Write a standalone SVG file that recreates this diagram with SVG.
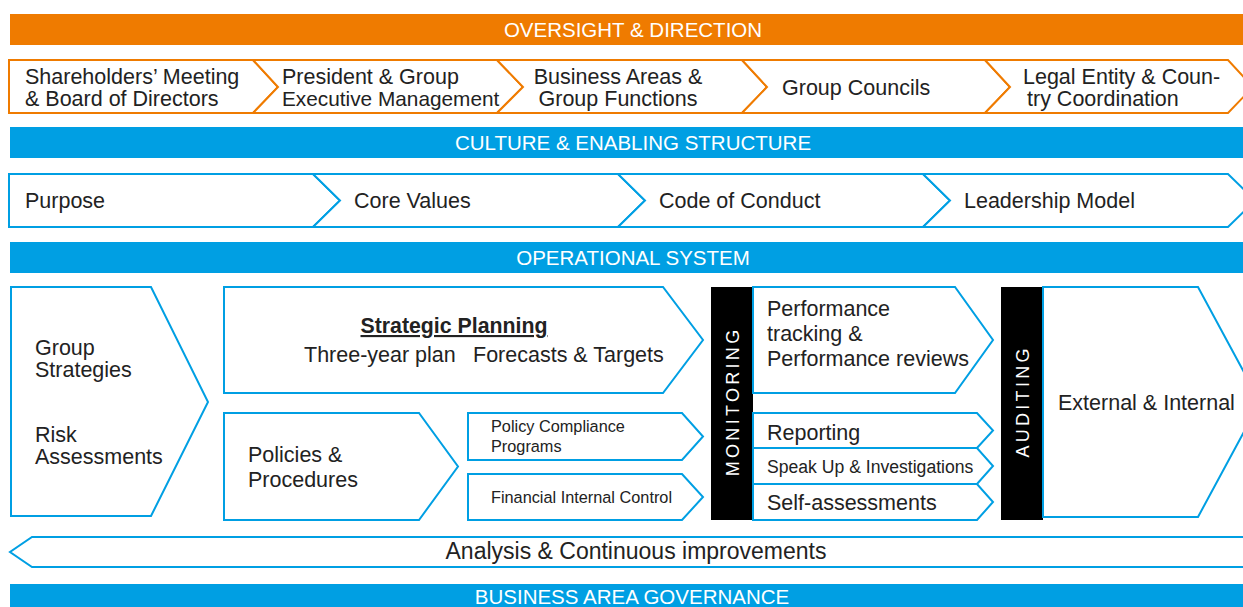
<svg xmlns="http://www.w3.org/2000/svg" width="1243" height="607" viewBox="0 0 1243 607">
<style>
.bar-o{fill:#EF7B00}
.bar-b{fill:#009FE3}
.bt{font-family:"Liberation Sans",Arial,sans-serif;font-size:20.5px;fill:#fff;text-anchor:middle}
.o{fill:#fff;stroke:#EF7B00;stroke-width:2}
.b{fill:#fff;stroke:#009FE3;stroke-width:2}
.t{font-family:"Liberation Sans",Arial,sans-serif;font-size:21.5px;fill:#222}
.s{font-family:"Liberation Sans",Arial,sans-serif;font-size:16.3px;fill:#222}
.vb{fill:#000}
.vt{font-family:"Liberation Sans",Arial,sans-serif;font-size:18px;fill:#fff;letter-spacing:3.3px}
</style>
<rect width="1243" height="607" fill="#fff"/>

<g id="bar-oversight"><rect class="bar-o" x="10" y="14" width="1233" height="31"/><text class="bt" x="633" y="37">OVERSIGHT &amp; DIRECTION</text></g>

<g id="n-shareholders"><polygon class="o" points="9,60 253,60 278,87 253,113 9,113"/><text class="t" x="25" y="84">Shareholders’ Meeting</text><text class="t" x="25" y="106">&amp; Board of Directors</text></g>
<g id="n-president"><polygon class="o" points="253,60 497,60 523,87 497,113 253,113 278,87"/><text class="t" x="282" y="84">President &amp; Group</text><text class="t" x="282" y="106" style="font-size:20.8px">Executive Management</text></g>
<g id="n-business"><polygon class="o" points="497,60 742,60 767,87 742,113 497,113 523,87"/><text class="t" x="618" y="84" text-anchor="middle">Business Areas &amp;</text><text class="t" x="618" y="106" text-anchor="middle">Group Functions</text></g>
<g id="n-councils"><polygon class="o" points="742,60 985,60 1010,87 985,113 742,113 767,87"/><text class="t" x="782" y="95">Group Councils</text></g>
<g id="n-legal"><polygon class="o" points="985,60 1228,60 1253,87 1228,113 985,113 1010,87"/><text class="t" x="1023" y="84">Legal Entity &amp; Coun-</text><text class="t" x="1027" y="106">try Coordination</text></g>

<g id="bar-culture"><rect class="bar-b" x="10" y="127" width="1233" height="31"/><text class="bt" x="633" y="150">CULTURE &amp; ENABLING STRUCTURE</text></g>

<g id="n-purpose"><polygon class="b" points="9,174 313,174 340,200.5 313,227 9,227"/><text class="t" x="25" y="208">Purpose</text></g>
<g id="n-values"><polygon class="b" points="313,174 618,174 645,200.5 618,227 313,227 340,200.5"/><text class="t" x="354" y="208">Core Values</text></g>
<g id="n-conduct"><polygon class="b" points="618,174 923,174 950,200.5 923,227 618,227 645,200.5"/><text class="t" x="659" y="208">Code of Conduct</text></g>
<g id="n-leadership"><polygon class="b" points="923,174 1228,174 1255,200.5 1228,227 923,227 950,200.5"/><text class="t" x="964" y="208">Leadership Model</text></g>

<g id="bar-operational"><rect class="bar-b" x="10" y="242" width="1233" height="31"/><text class="bt" x="633" y="265">OPERATIONAL SYSTEM</text></g>

<g id="n-strategies"><polygon class="b" points="11,287 151,287 208,402 151,516 11,516"/><text class="t" x="35" y="355">Group</text><text class="t" x="35" y="377">Strategies</text><text class="t" x="35" y="442">Risk</text><text class="t" x="35" y="464">Assessments</text></g>

<g id="n-planning"><polygon class="b" points="224,287 663,287 703,340 663,393 224,393"/><text class="t" x="454" y="333" text-anchor="middle" style="font-size:21.3px;font-weight:bold;text-decoration:underline">Strategic Planning</text><text class="t" x="304" y="362">Three-year plan</text><text class="t" x="473" y="362">Forecasts &amp; Targets</text></g>

<g id="n-policies"><polygon class="b" points="224,413 419,413 458,466.5 419,520 224,520"/><text class="t" x="248" y="462">Policies &amp;</text><text class="t" x="248" y="487">Procedures</text></g>

<g id="n-compliance"><polygon class="b" points="468,413 682,413 703,436.5 682,460 468,460"/><text class="s" x="491" y="432">Policy Compliance</text><text class="s" x="491" y="452">Programs</text></g>
<g id="n-financial"><polygon class="b" points="468,474 682,474 703,497 682,520 468,520"/><text class="s" x="491" y="503">Financial Internal Control</text></g>

<g id="n-monitoring"><rect class="vb" x="711" y="287" width="42" height="233"/><text class="vt" transform="translate(738.5,403) rotate(-90)" text-anchor="middle" dx="1.6">MONITORING</text></g>

<g id="n-performance"><polygon class="b" points="753,287 955,287 993,340 955,393 753,393"/><text class="t" x="767" y="316">Performance</text><text class="t" x="767" y="341">tracking &amp;</text><text class="t" x="767" y="366">Performance reviews</text></g>
<g id="n-reporting"><polygon class="b" points="753,413 977,413 993,430.5 977,448 753,448"/><text class="t" x="767" y="440">Reporting</text></g>
<g id="n-speakup"><polygon class="b" points="753,448 977,448 993,466 977,484 753,484"/><text class="t" x="767" y="473" style="font-size:17.6px">Speak Up &amp; Investigations</text></g>
<g id="n-self"><polygon class="b" points="753,484 977,484 993,502 977,520 753,520"/><text class="t" x="767" y="510">Self-assessments</text></g>

<g id="n-auditing"><rect class="vb" x="1001" y="287" width="42" height="233"/><text class="vt" transform="translate(1028.5,403) rotate(-90)" text-anchor="middle" dx="1.6">AUDITING</text></g>
<g id="n-external"><polygon class="b" points="1043,287 1198,287 1260,402 1198,517 1043,517"/><text class="t" x="1058" y="410">External &amp; Internal</text></g>

<g id="n-analysis"><polygon class="b" points="32,537 1250,537 1250,567 32,567 10,552"/><text class="t" x="636" y="559" text-anchor="middle" style="font-size:23px">Analysis &amp; Continuous improvements</text></g>

<g id="bar-business"><rect class="bar-b" x="10" y="584" width="1233" height="30"/><text class="bt" x="632" y="604">BUSINESS AREA GOVERNANCE</text></g>

<g id="connectors"></g>
</svg>
